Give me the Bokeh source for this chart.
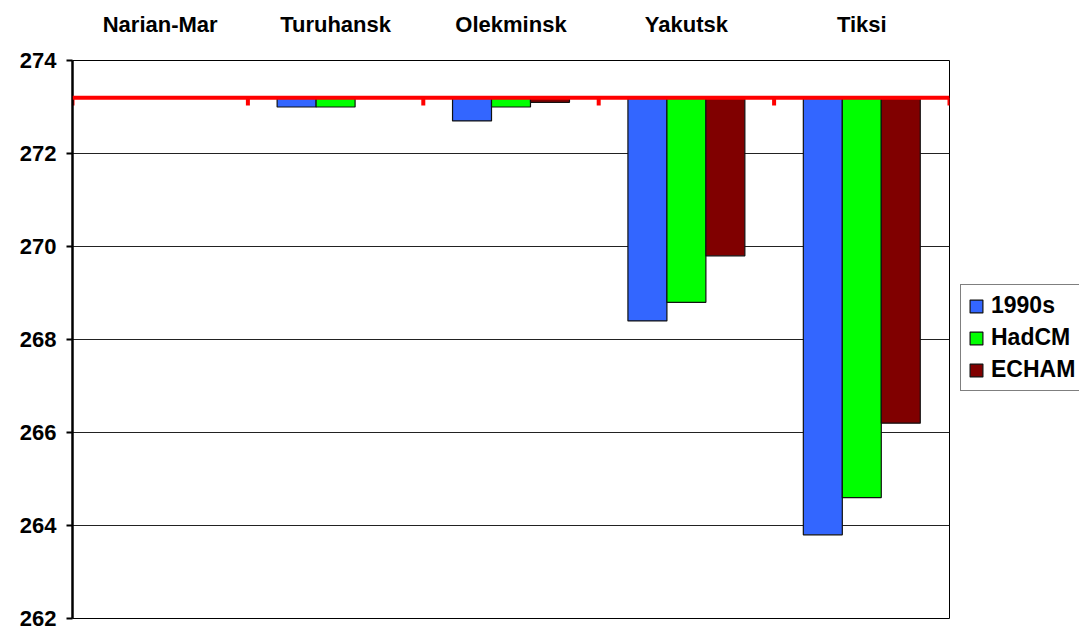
import math
from bokeh.plotting import figure
from bokeh.models import (ColumnDataSource, FactorRange, Range1d, Span, Legend, LegendItem,
                          FixedTicker, CategoricalAxis)
from bokeh.transform import dodge
from bokeh.embed import file_html
from bokeh.resources import INLINE

cities = ["Narian-Mar", "Turuhansk", "Olekminsk", "Yakutsk", "Tiksi"]
series_names = ["1990s", "HadCM", "ECHAM"]
t1990s = [273.2, 273.0, 272.7, 268.4, 263.8]
hadcm = [273.2, 273.0, 273.0, 268.8, 264.6]
echam = [273.2, 273.2, 273.1, 269.8, 266.2]
baseline = 273.2
y_ticks = [262, 264, 266, 268, 270, 272, 274]
colors = ["#3366FF", "#00FF00", "#800000"]

FONT = "Liberation Sans"

src = ColumnDataSource(dict(city=cities, s1990s=t1990s, hadcm=hadcm, echam=echam,
                            base=[baseline] * len(cities)))

p = figure(x_range=FactorRange(*cities, range_padding=0, factor_padding=0),
           y_range=Range1d(262, 274),
           frame_width=877, frame_height=558, output_backend="svg", toolbar_location=None,
           x_axis_location=None,
           min_border_left=72, min_border_right=130, min_border_top=60, min_border_bottom=10)

p.outline_line_color = "black"
p.outline_line_width = 1
p.background_fill_color = "white"
p.border_fill_color = "white"

bw = 1 / 4.5
offsets = [-bw, 0, bw]
cols = ["s1990s", "hadcm", "echam"]
renderers = []
for col, off, c in zip(cols, offsets, colors):
    r = p.vbar(x=dodge("city", off, range=p.x_range), top=col, bottom="base", width=bw,
               source=src, fill_color=c, line_color="#111111", line_width=1.2)
    renderers.append(r)

# y axis
yax = p.yaxis[0]
yax.ticker = FixedTicker(ticks=y_ticks)
yax.major_label_text_font = FONT
yax.major_label_text_font_style = "bold"
yax.major_label_text_font_size = "22px"
yax.major_label_text_color = "black"
yax.axis_line_color = "black"
yax.axis_line_width = 2.5
yax.major_tick_line_color = "black"
yax.major_tick_line_width = 2
yax.major_tick_out = 6
yax.major_tick_in = 0
yax.minor_tick_line_color = None
yax.major_label_standoff = 10

p.ygrid.ticker = FixedTicker(ticks=y_ticks)
p.ygrid.grid_line_color = "#222222"
p.ygrid.grid_line_width = 1
p.xgrid.grid_line_color = None

# top category axis
top = CategoricalAxis()
top.axis_line_color = None
top.major_tick_line_color = None
top.minor_tick_line_color = None
top.major_label_text_font = FONT
top.major_label_text_font_style = "bold"
top.major_label_text_font_size = "22px"
top.major_label_text_color = "black"
top.major_label_standoff = 18
p.add_layout(top, "above")

# red baseline axis with ticks at category boundaries
p.add_layout(Span(location=baseline, dimension="width", line_color="#FF0000", line_width=4))
bounds = list(range(len(cities) + 1))
p.segment(x0=bounds, x1=bounds, y0=[baseline] * len(bounds),
          y1=[baseline - 0.17] * len(bounds), line_color="#FF0000", line_width=4)

legend = Legend(items=[LegendItem(label=n, renderers=[r]) for n, r in zip(series_names, renderers)],
                location=(11, 227))
legend.label_text_font = FONT
legend.label_text_font_style = "bold"
legend.label_text_font_size = "23px"
legend.label_text_color = "black"
legend.label_height = 22
legend.glyph_width = 16
legend.glyph_height = 16
legend.label_standoff = 7
legend.spacing = 5
legend.padding = 7
legend.margin = 0
legend.border_line_color = "black"
legend.border_line_width = 1
legend.background_fill_color = "white"
p.add_layout(legend, "right")

open("out.html", "w").write(file_html(p, INLINE))
